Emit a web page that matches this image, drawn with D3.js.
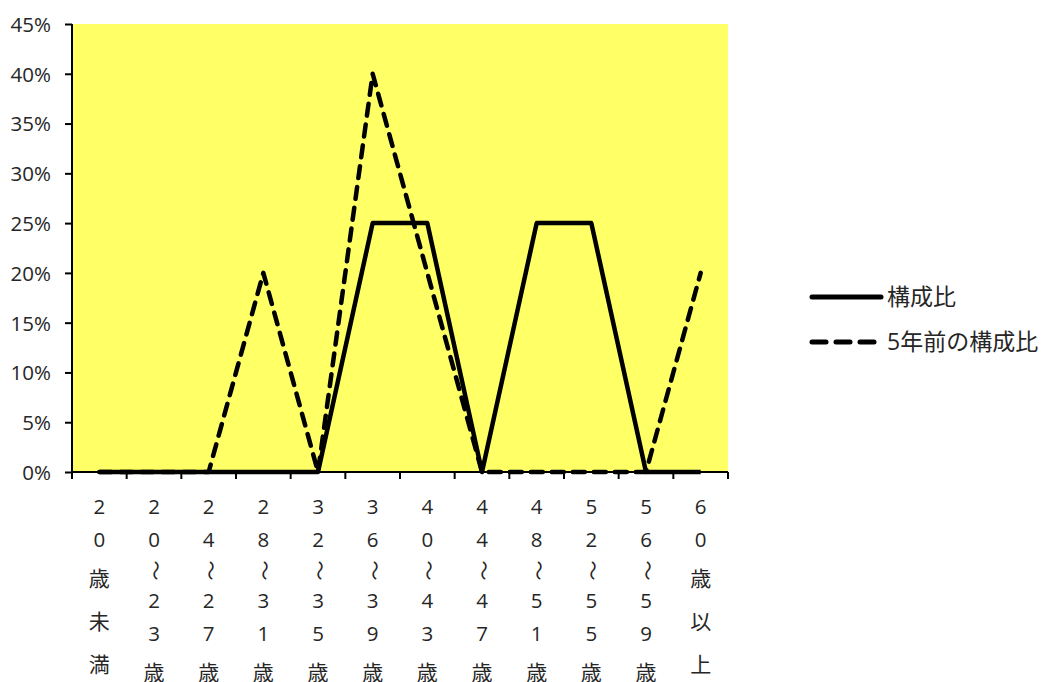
<!DOCTYPE html>
<html lang="ja">
<head>
  <meta charset="UTF-8">
  <script src="https://d3js.org/d3.v7.min.js"></script>
  <title>構成比</title>
  <style>
    body { margin: 0; background: #fff; }
    text { font-family: "Open Sans", "Noto Sans CJK JP", sans-serif; fill: #262626; }
  </style>
</head>
<body>
  <svg id="chart" width="1048" height="682"></svg>
  <script>
    // カテゴリ（年齢階層）
    const categories = ["20歳未満", "20〜23歳", "24〜27歳", "28〜31歳", "32〜35歳", "36〜39歳",
                        "40〜43歳", "44〜47歳", "48〜51歳", "52〜55歳", "56〜59歳", "60歳以上"];
    const seriesNames = ["構成比", "5年前の構成比"];
    const current = [0, 0, 0, 0, 0, 0.25, 0.25, 0, 0.25, 0.25, 0, 0];
    const fiveYearsAgo = [0, 0, 0, 0.20, 0, 0.40, 0.20, 0, 0, 0, 0, 0.20];
    const yTicks = [0, 0.05, 0.10, 0.15, 0.20, 0.25, 0.30, 0.35, 0.40, 0.45];

    const svg = d3.select("#chart");
    const plotLeft = 72, plotRight = 728, plotTop = 24, plotBottom = 472;

    const x = d3.scaleBand().domain(categories).range([plotLeft, plotRight]);
    const y = d3.scaleLinear().domain([0, 0.45]).range([plotBottom, plotTop]);

    // プロットエリア
    svg.append("rect")
      .attr("x", plotLeft).attr("y", plotTop)
      .attr("width", plotRight - plotLeft).attr("height", plotBottom - plotTop)
      .style("fill", "#ffff66");

    // y軸
    const yAxis = svg.append("g")
      .attr("transform", `translate(${plotLeft},0)`)
      .call(d3.axisLeft(y).tickValues(yTicks).tickSize(7).tickPadding(14)
        .tickFormat(d3.format(".0%")));
    yAxis.select("path.domain").remove();
    yAxis.selectAll("line").style("stroke", "#000").style("stroke-width", "2px");
    yAxis.selectAll("text").style("font-size", "20.5px").attr("dy", "0.36em");
    yAxis.append("line")
      .attr("x1", 0).attr("x2", 0).attr("y1", plotTop).attr("y2", plotBottom)
      .style("stroke", "#000").style("stroke-width", "2px");

    // x軸（目盛はカテゴリの境界）
    const xAxisG = svg.append("g");
    xAxisG.selectAll("line.tick")
      .data(d3.range(categories.length + 1))
      .enter().append("line")
      .attr("x1", i => plotLeft + i * x.step())
      .attr("x2", i => plotLeft + i * x.step())
      .attr("y1", plotBottom).attr("y2", plotBottom + 7)
      .style("stroke", "#000").style("stroke-width", "2px");

    // 縦書きラベル：1文字ずつ配置
    const isDigit = ch => /[0-9]/.test(ch);
    const charHeight = ch => isDigit(ch) ? 33 : (ch === "〜" ? 28 : 43);
    categories.forEach(cat => {
      const cx = x(cat) + x.bandwidth() / 2;
      let cy = 507;
      const chars = Array.from(cat);
      chars.forEach((ch, i) => {
        if (i > 0) cy += (charHeight(chars[i - 1]) + charHeight(ch)) / 2;
        const t = xAxisG.append("text")
          .attr("text-anchor", "middle")
          .attr("dy", "0.36em")
          .style("font-size", isDigit(ch) ? "20.5px" : "21px")
          .style("font-family", isDigit(ch) ? "'Open Sans', sans-serif" : "'Noto Sans CJK JP', sans-serif")
          .text(ch);
        if (ch === "〜") {
          t.attr("transform", `translate(${cx},${cy}) rotate(90)`)
            .attr("dy", "0.3em")
            .style("font-size", "20px");
        } else {
          t.attr("x", cx).attr("y", cy);
        }
      });
    });

    // x軸線
    svg.append("line")
      .attr("x1", plotLeft).attr("x2", plotRight).attr("y1", plotBottom).attr("y2", plotBottom)
      .style("stroke", "#000").style("stroke-width", "2px");

    const line = d3.line()
      .x((d, i) => x(categories[i]) + x.bandwidth() / 2)
      .y(d => y(d));

    svg.append("path")
      .datum(fiveYearsAgo)
      .attr("d", line)
      .style("fill", "none").style("stroke", "#000")
      .style("stroke-width", "4.5px")
      .style("stroke-dasharray", "12,9")
      .style("stroke-linecap", "round").style("stroke-linejoin", "round");

    svg.append("path")
      .datum(current)
      .attr("d", line)
      .style("fill", "none").style("stroke", "#000")
      .style("stroke-width", "4.5px")
      .style("stroke-linejoin", "round");

    // 凡例
    const legend = svg.append("g");
    seriesNames.forEach((name, i) => {
      const ly = 297 + i * 45;
      legend.append("line")
        .attr("x1", 812).attr("x2", 881).attr("y1", ly).attr("y2", ly)
        .style("stroke", "#000").style("stroke-width", "5px")
        .style("stroke-linecap", "round")
        .style("stroke-dasharray", i === 1 ? "14,10" : null);
      legend.append("text")
        .attr("x", 887).attr("y", ly).attr("dy", "0.36em")
        .style("font-size", "23px")
        .style("font-family", "'Open Sans', 'Noto Sans CJK JP', sans-serif")
        .text(name);
    });
  </script>
</body>
</html>
